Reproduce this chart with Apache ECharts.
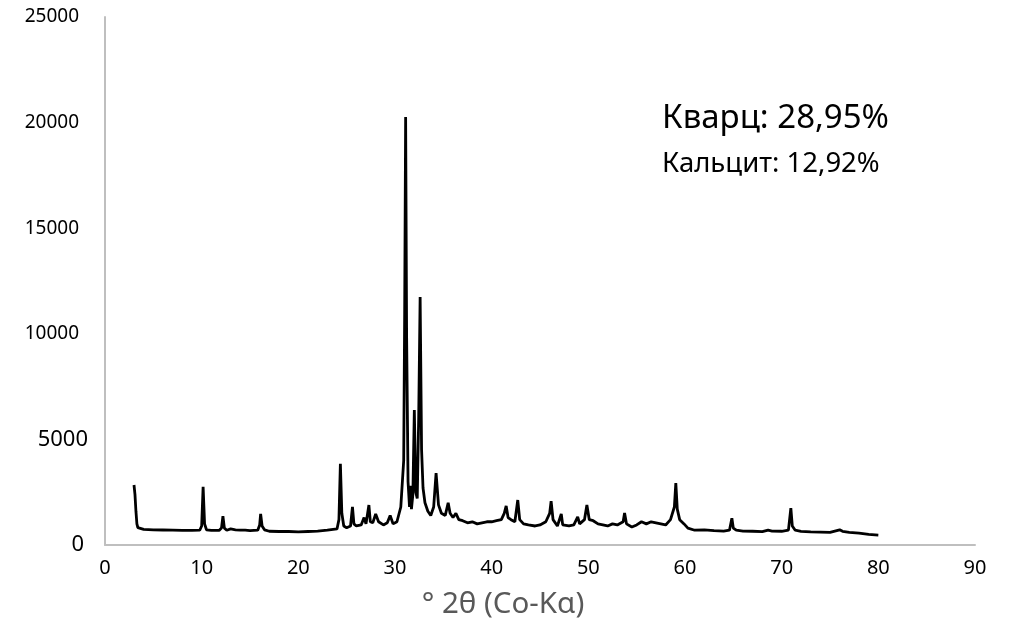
<!DOCTYPE html>
<html>
<head>
<meta charset="utf-8">
<title>XRD</title>
<script src="https://cdn.jsdelivr.net/npm/echarts@6/dist/echarts.min.js"></script>
<style>
  html, body { margin: 0; padding: 0; background: #fff; }
  #main { width: 1020px; height: 626px; }
</style>
</head>
<body>
<div id="main"></div>
<script>
// угол 2θ, градусы
const twoTheta = [
  3.0, 3.1, 3.2, 3.3, 3.4, 3.6, 4.0, 5.0, 6.0, 7.0, 8.0, 9.0, 9.8, 10.0, 10.15, 10.3, 10.5,
  11.0, 11.8, 12.05, 12.2, 12.35, 12.6, 13.0, 13.2, 13.5, 14.0, 14.5, 15.0, 15.8, 16.0, 16.1,
  16.25, 16.5, 17.0, 18.0, 19.0, 20.0, 21.0, 22.0, 23.0, 24.0, 24.2, 24.35, 24.5, 24.7, 25.0,
  25.4, 25.6, 25.75, 26.0, 26.5, 26.8, 27.0, 27.3, 27.45, 27.7, 28.0, 28.3, 28.8, 29.2, 29.5,
  29.8, 30.2, 30.6, 30.9, 31.0, 31.1, 31.2, 31.35, 31.5, 31.6, 31.7, 31.85, 32.0, 32.15, 32.3,
  32.45, 32.6, 32.75, 32.9, 33.1, 33.4, 33.7, 34.0, 34.25, 34.5, 34.8, 35.2, 35.5, 35.7, 36.0,
  36.3, 36.6, 37.0, 37.5, 38.0, 38.5, 39.0, 39.5, 40.0, 40.5, 41.0, 41.3, 41.5, 41.7, 42.0,
  42.4, 42.7, 42.9, 43.3, 43.8, 44.5, 45.0, 45.6, 46.0, 46.15, 46.35, 46.8, 47.2, 47.35, 48.0,
  48.5, 48.9, 49.1, 49.6, 49.85, 50.1, 50.5, 51.0, 51.5, 52.0, 52.5, 53.0, 53.6, 53.75, 53.95,
  54.5, 55.0, 55.5, 56.0, 56.5, 57.0, 57.5, 58.0, 58.5, 58.9, 59.05, 59.2, 59.45, 59.65, 59.9,
  60.3, 61.0, 62.0, 63.0, 64.0, 64.6, 64.85, 65.0, 65.3, 66.0, 67.0, 68.0, 68.6, 69.0, 70.0,
  70.7, 70.95, 71.1, 71.4, 72.0, 73.0, 74.0, 75.0, 76.0, 76.3, 77.0, 78.0, 79.0, 80.0
]
// интенсивность, имп.
const counts = [
  2840, 2400, 1600, 1000, 820, 760, 740, 720, 710, 700, 690, 690, 700, 900, 2750, 1000, 720,
  690, 690, 800, 1370, 800, 700, 760, 820, 720, 700, 700, 680, 700, 950, 1470,
  900, 720, 650, 640, 640, 620, 640, 660, 700, 760, 1200, 3840, 1500, 900, 820,
  900, 1800, 1000, 900, 950, 1300, 1000, 1890, 1100, 1050, 1470, 1100, 950, 1050, 1400,
  1000, 1100, 1800, 4000, 11000, 20260, 10000, 3000, 1800, 2800, 1700, 2400, 6390, 2500, 2200,
  6000, 11740, 4500, 2700, 2000, 1600, 1400, 1800, 3400, 1900, 1500, 1400, 2000, 1500, 1300,
  1500, 1200, 1150, 1050, 1100, 1000, 1050, 1100, 1100, 1150, 1200, 1500, 1850, 1300, 1200,
  1100, 2130, 1200, 1000, 950, 900, 950, 1100, 1500, 2080, 1200, 900, 1470, 950, 900,
  950, 1330, 1000, 1200, 1890, 1200, 1150, 1000, 950, 900, 1000, 950, 1100, 1520, 1000,
  850, 950, 1100, 1000, 1100, 1050, 1000, 950, 1200, 1800, 2930, 1700, 1200, 1280, 1000,
  800, 700, 720, 680, 660, 700, 1270, 800, 700, 660, 650, 630, 700, 660, 650,
  700, 1750, 900, 700, 650, 620, 610, 600, 720, 650, 600, 560, 500, 470
]
const xTicks = [0, 10, 20, 30, 40, 50, 60, 70, 80, 90]
const yTicks = [0, 5000, 10000, 15000, 20000, 25000]
const notes = ['Кварц: 28,95%', 'Кальцит: 12,92%']

const fontName = 'Noto Sans'
let chart = echarts.init(document.getElementById('main'))
let option = {
  backgroundColor: '#ffffff',
  animation: false,
  grid: {
    left: 105,
    right: 45,
    top: 17,
    bottom: 81,
    containLabel: false
  },
  xAxis: {
    type: 'value',
    min: xTicks[0],
    max: xTicks[xTicks.length - 1],
    interval: 10,
    name: '° 2θ (Co-Kα)',
    nameLocation: 'middle',
    nameGap: 45,
    nameTextStyle: {
      fontFamily: fontName,
      fontSize: 29.5,
      color: '#595959',
      padding: [0, 74, 0, 0]
    },
    axisLine: { lineStyle: { color: '#bfbfbf', width: 2 } },
    axisTick: { show: false },
    splitLine: { show: false },
    axisLabel: {
      margin: 13,
      fontFamily: fontName,
      fontSize: 20,
      color: '#000'
    }
  },
  yAxis: {
    type: 'value',
    min: yTicks[0],
    max: yTicks[yTicks.length - 1],
    interval: 5000,
    axisLine: { show: true, lineStyle: { color: '#bfbfbf', width: 2 } },
    axisTick: { show: false },
    splitLine: { show: false },
    axisLabel: {
      margin: 17,
      fontFamily: fontName,
      color: '#000',
      formatter: function (v) {
        if (v >= 10000) return '{s|' + v + '}'
        if (v === 0) return '{z|' + v + '}'
        return '{b|' + v + '}'
      },
      rich: {
        s: { fontFamily: fontName, fontSize: 19, color: '#000', padding: [0, 9, 0, 0] },
        b: { fontFamily: fontName, fontSize: 22, color: '#000' },
        z: { fontFamily: fontName, fontSize: 22, color: '#000', padding: [0, 4, 0, 0] }
      }
    }
  },
  graphic: [
    {
      type: 'text',
      left: 662,
      top: 102,
      style: { text: notes[0], font: '33px "Noto Sans"', fill: '#000' }
    },
    {
      type: 'text',
      left: 662,
      top: 150,
      style: { text: notes[1], font: '27.5px "Noto Sans"', fill: '#000' }
    }
  ],
  series: [{
    type: 'line',
    data: twoTheta.map((t, i) => [t, counts[i]]),
    showSymbol: false,
    smooth: false,
    lineStyle: { color: '#000', width: 2.8 }
  }]
}
chart.setOption(option)
</script>
</body>
</html>
